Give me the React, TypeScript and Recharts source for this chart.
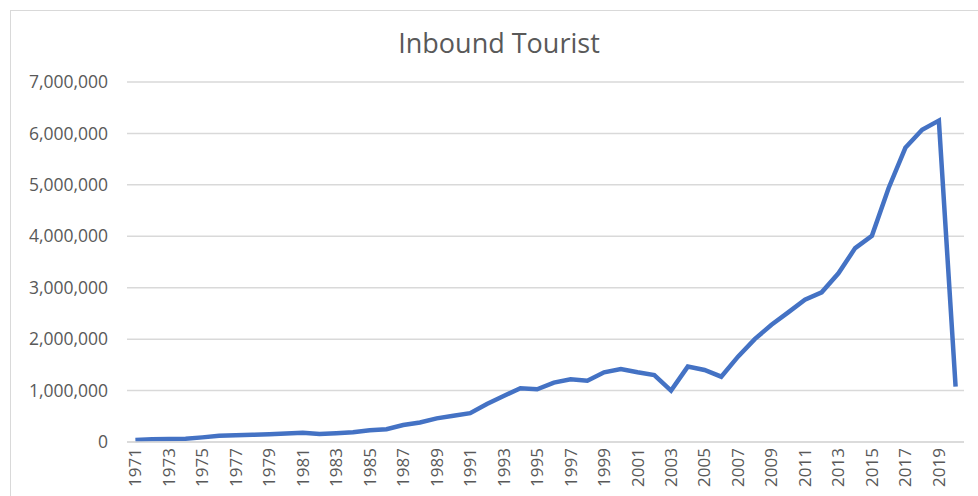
import { LineChart, Line, XAxis, YAxis, CartesianGrid } from 'recharts';

const years = [
  1971, 1972, 1973, 1974, 1975, 1976, 1977, 1978, 1979, 1980,
  1981, 1982, 1983, 1984, 1985, 1986, 1987, 1988, 1989, 1990,
  1991, 1992, 1993, 1994, 1995, 1996, 1997, 1998, 1999, 2000,
  2001, 2002, 2003, 2004, 2005, 2006, 2007, 2008, 2009, 2010,
  2011, 2012, 2013, 2014, 2015, 2016, 2017, 2018, 2019, 2020,
];

const tourists = [
  40000, 55000, 60000, 62000, 90000, 122000, 130000, 140000, 150000, 165000,
  180000, 155000, 170000, 190000, 230000, 250000, 330000, 380000, 460000, 510000,
  560000, 740000, 895000, 1045000, 1025000, 1155000, 1220000, 1190000, 1355000, 1420000,
  1355000, 1300000, 1000000, 1466000, 1400000, 1270000, 1660000, 2000000, 2280000, 2520000,
  2765000, 2910000, 3280000, 3770000, 4010000, 4940000, 5720000, 6070000, 6250000, 1075000,
];

const yTicks = [0, 1000000, 2000000, 3000000, 4000000, 5000000, 6000000, 7000000];

const data = years.map((y, i) => ({ year: String(y), value: tourists[i] }));

const FONT = '"Open Sans", "Noto Sans", sans-serif';
const GREY = '#595959';

function YearTick(props: any) {
  const { x, y, payload } = props;
  return (
    <g transform={`translate(${x},${y})`}>
      <text
        x={0}
        y={0}
        dy="0.35em"
        textAnchor="end"
        transform="rotate(-90)"
        fill={GREY}
        fontSize={17}
        fontFamily={FONT}
      >
        {payload.value}
      </text>
    </g>
  );
}

export default function App() {
  return (
    <div style={{ position: 'fixed', left: 0, top: 0, width: 978, height: 496, overflow: 'hidden', background: '#fff' }}>
      <div
        style={{
          position: 'absolute', left: 10, top: 10, width: 1000, height: 520,
          borderTop: '1.5px solid #d9d9d9', borderLeft: '1.5px solid #d9d9d9',
        }}
      />
      <div
        style={{
          position: 'absolute', left: 10, top: 24, width: 978, textAlign: 'center',
          fontFamily: FONT, fontSize: 27, color: GREY,
        }}
      >
        Inbound Tourist
      </div>
      <div style={{ position: 'absolute', left: 0, top: 0 }}>
        <LineChart width={978} height={496} data={data} margin={{ top: 82, right: 14, left: 0, bottom: 4 }}>
          <CartesianGrid vertical={false} stroke="#d9d9d9" strokeWidth={1.5} />
          <XAxis
            dataKey="year"
            interval={1}
            height={50}
            padding={{ left: 8.4, right: 8.4 }}
            tickLine={false}
            tickSize={0}
            tickMargin={6}
            axisLine={{ stroke: '#d9d9d9', strokeWidth: 1.5 }}
            tick={<YearTick />}
          />
          <YAxis
            width={127}
            domain={[0, 7000000]}
            ticks={yTicks}
            axisLine={false}
            tickLine={false}
            tickSize={0}
            tickMargin={19}
            tickFormatter={(v: number) => v.toLocaleString('en-US')}
            tick={{ fill: GREY, fontSize: 17.5, fontFamily: FONT }}
          />
          <Line
            type="linear"
            dataKey="value"
            stroke="#4472C4"
            strokeWidth={4.5}
            dot={false}
            isAnimationActive={false}
          />
        </LineChart>
      </div>
    </div>
  );
}
